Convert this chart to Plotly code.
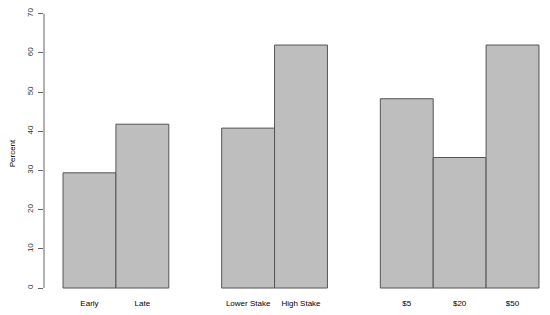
import plotly.graph_objects as go

# data
groups = [["Early", "Late"], ["Lower Stake", "High Stake"], ["$5", "$20", "$50"]]
values = [29.4, 41.8, 40.8, 62.0, 48.3, 33.3, 62.0]
y_ticks = [0, 10, 20, 30, 40, 50, 60, 70]

# bar positions like R barplot: one bar-width gap between groups
labels, xpos = [], []
pos = 0.5
for g in groups:
    for name in g:
        labels.append(name)
        xpos.append(pos)
        pos += 1
    pos += 1
x_end = xpos[-1] + 0.5

fig = go.Figure(go.Bar(
    x=xpos, y=values, width=1,
    marker=dict(color="#bebebe", line=dict(color="#555555", width=1)),
    hoverinfo="skip",
))

# y axis line only from 0 to 70 (R style)
fig.add_shape(type="line", xref="paper", yref="y", x0=0, x1=0,
              y0=y_ticks[0], y1=y_ticks[-1], line=dict(color="#666666", width=1))

# the page body has an 8px margin, so the figure is laid out shifted up/left
fig.update_layout(
    width=550, height=315,
    margin=dict(l=36, r=0, t=0, b=24),
    paper_bgcolor="white", plot_bgcolor="white",
    font=dict(family="Liberation Sans, Arial, sans-serif", size=8, color="black"),
    showlegend=False,
    xaxis=dict(
        range=[-0.36, x_end + 0.36], automargin=False,
        tickvals=xpos, ticktext=labels,
        showgrid=False, zeroline=False, showline=False, ticks="",
        tickfont=dict(size=8), ticklabelstandoff=-2,
    ),
    yaxis=dict(
        range=[-2.8, 71.45], automargin=False,
        tickvals=y_ticks, ticks="outside", ticklen=5, tickcolor="#666666",
        tickangle=-90, showgrid=False, zeroline=False, showline=False,
        tickfont=dict(size=8, color="#333333"), ticklabelstandoff=2,
        ticklabeloverflow="allow",
        title=dict(text="Percent", font=dict(size=8), standoff=9),
    ),
)

fig.write_html("out.html")
